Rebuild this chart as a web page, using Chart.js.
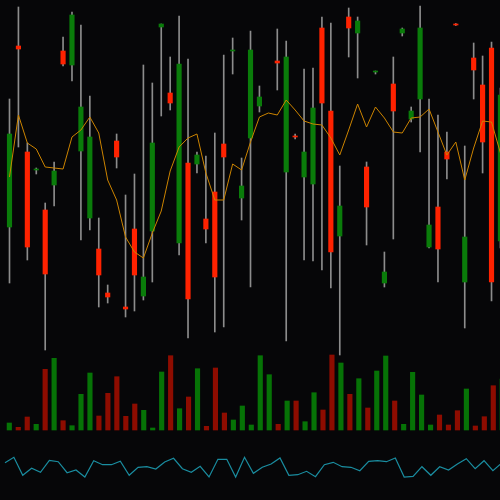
<!DOCTYPE html>
<html lang="en">
<head>
<meta charset="UTF-8">
<title>Candles</title>
<script src="https://cdn.jsdelivr.net/npm/chart.js"></script>
<style>
  html, body { margin: 0; padding: 0; background: #060608; }
  #wrap { position: relative; width: 500px; height: 500px; overflow: hidden; }
</style>
</head>
<body>
<div id="wrap"><canvas id="chart" width="500" height="500"></canvas></div>
<script>
// Price series (one entry per session, null = off the visible range)
const opens  = [123, 304, 198, 180, 140, 165, 299, 285, 199, 132, 101, 57, 209, 43, 121, 54, 119, 323, 257, 107,
                187, 186, 131, 158, 206, 299, 152, 212, 244, null, 289, 178, 214, 173, 166, 322, 239, 114, 333, 317,
                183, 278, 67, 266, 317, 231, 251, 103, 143, 198, 326, 68, 292, 265, 302, 109];
const highs  = [251, 343, 207, 182, 147, 188, 313, 338, 325, 254, 132, 65, 216, 155, 176, 285, 267, 326, 293, 334,
                291, 198, 194, 217, 295, 312, 192, 319, 264, null, 321, 309, 216, 281, 282, 333, 327, 184, 342, 333,
                188, 279, 98, 293, 322, 243, 344, 251, 235, 218, 326.5, 204, 307, 294, 308, 262];
const lows   = [67, 203, 90, 176, 0, 144, 284, 269, 110, 120, 43, 47, 182, 33, 39, 50, 68, 234, 240, 95,
                12, 177, 107, 18, 23, 276, 130, 63, 238, null, 260, 9, 211, 90, 89, 80, 62, -5, 293, 272,
                105, 276, 63, 111, 314, 228, 198, 102, 68, 171, 324.5, 22, 251, 177, 49, 102];
const closes = [216, 301, 103, 181, 76, 179, 286, 335, 243, 213, 75, 53, 193, 41, 75, 73, 207, 326, 247, 286,
                51, 195, 121, 73, 193, 300, 164, 300, 253, null, 287, 293, 213, 198, 242, 247, 98, 144, 322, 329,
                143, 278.5, 78, 239, 321, 239, 322, 125, 101, 191, 325, 113, 280, 208, 68, 255];
const movingAvg = [173, 235, 207, 201, 183, 182, 181, 213, 220, 233, 217, 170, 150, 113, 98, 92, 117, 139, 179, 203,
                   212, 216, 177, 150, 150, 186, 180, 208, 233, 237, 235, 250, 240, 229, 226, 225, 212, 195, 220, 246,
                   223, 243, 232, 218, 217, 232, 233, 241, 218, 195, 208, 170, 202, 229, 228, 197];
const volumes = [7, 2.7, 13, 5.7, 60.7, 71.7, 9.3, 4.3, 35.7, 57, 14, 36.7, 53.3, 13.7, 26, 19.7, 2, 58, 74.3, 21.3,
                 33, 61.3, 3.7, 62, 17, 10, 24, 5, 74.3, 55.3, 5.7, 29, 29, 8.3, 37.3, 20, 75, 67, 35.7, 51.3,
                 22, 59, 74, 29, 5.7, 57.7, 35, 5, 15, 5, 19.3, 41, 4, 13.3, 44.3, 51];
const volumeUp = [1, 0, 0, 1, 0, 1, 0, 1, 1, 1, 0, 0, 0, 0, 0, 1, 1, 1, 0, 1,
                  0, 1, 0, 0, 0, 1, 1, 1, 1, 1, 0, 1, 0, 1, 1, 0, 0, 1, 0, 1,
                  0, 1, 1, 0, 1, 1, 1, 1, 0, 0, 0, 1, 0, 0, 0, 1];
const oscillator = [17.3, 22.7, 4.7, 11.7, 7.7, 19.7, 18.3, 7.3, 10, 3, 19.3, 15.3, 15.3, 18.7, 4.7, 12.7, 13.3, 11, 18, 21.7,
                    11.3, 7.7, 13.7, 3, 20.7, 20.7, 3, 22.7, 6.7, 12.7, 16, 22, 4.7, 5.3, 8.7, 3.3, 15.3, 17.7, 13.3, 12.7,
                    9.3, 18.7, 19.3, 18.3, 22, 3, 3.7, 13.3, 4.7, 13.3, 10, 16, 21.3, 11.3, 19.3, 9.3, 17];

const UP = '#0a7c0a';
const DOWN = '#ff2200';
const VOL_UP = '#067306';
const VOL_DOWN = '#8e0c00';

// build floating-bar data for wicks and bodies
const wicks = [], bodies = [], bodyColors = [];
opens.forEach((o, i) => {
    if (o === null) return;
    wicks.push({ x: i, y: [lows[i], highs[i]] });
    bodies.push({ x: i, y: [o, closes[i]] });
    bodyColors.push(closes[i] >= o ? UP : DOWN);
});
const vols = volumes.map((v, i) => ({ x: i, y: v }));
const volColors = volumeUp.map(u => u ? VOL_UP : VOL_DOWN);
const maLine = movingAvg.map((v, i) => ({ x: i, y: v }));
const oscLine = oscillator.map((v, i) => ({ x: i, y: v }));

const hidden = (extra) => Object.assign({ display: false, offset: false, bounds: 'data', grid: { display: false } }, extra);

new Chart(document.getElementById('chart'), {
    type: 'bar',
    data: {
        datasets: [
            { type: 'line', data: maLine, xAxisID: 'x', yAxisID: 'y', borderColor: '#cc8400', borderWidth: 1,
              pointRadius: 0, tension: 0, order: 1 },
            { data: bodies, xAxisID: 'x', yAxisID: 'y', backgroundColor: bodyColors, barThickness: 4.5,
              minBarLength: 1, grouped: false, order: 2 },
            { data: wicks, xAxisID: 'x', yAxisID: 'y', backgroundColor: '#8c8c8c', barThickness: 1,
              grouped: false, order: 3 },
            { data: vols, xAxisID: 'xv', yAxisID: 'yv', backgroundColor: volColors, barThickness: 4.5,
              grouped: false, order: 4 },
            { type: 'line', data: oscLine, xAxisID: 'xi', yAxisID: 'yi', borderColor: '#1a8da0', borderWidth: 1.2,
              pointRadius: 0, tension: 0, order: 5 }
        ]
    },
    options: {
        responsive: false,
        animation: false,
        layout: { padding: 0 },
        plugins: { legend: { display: false }, tooltip: { enabled: false } },
        scales: {
            x:  hidden({ type: 'linear', min: -1.064, max: 54.95 }),
            xv: hidden({ type: 'linear', min: -1.038, max: 54.75 }),
            xi: hidden({ type: 'linear', min: -0.564, max: 55.8 }),
            y:  hidden({ type: 'linear', min: -150, max: 350 }),
            yv: hidden({ type: 'linear', min: -70, max: 430 }),
            yi: hidden({ type: 'linear', min: -20, max: 480 })
        }
    }
});
</script>
</body>
</html>
